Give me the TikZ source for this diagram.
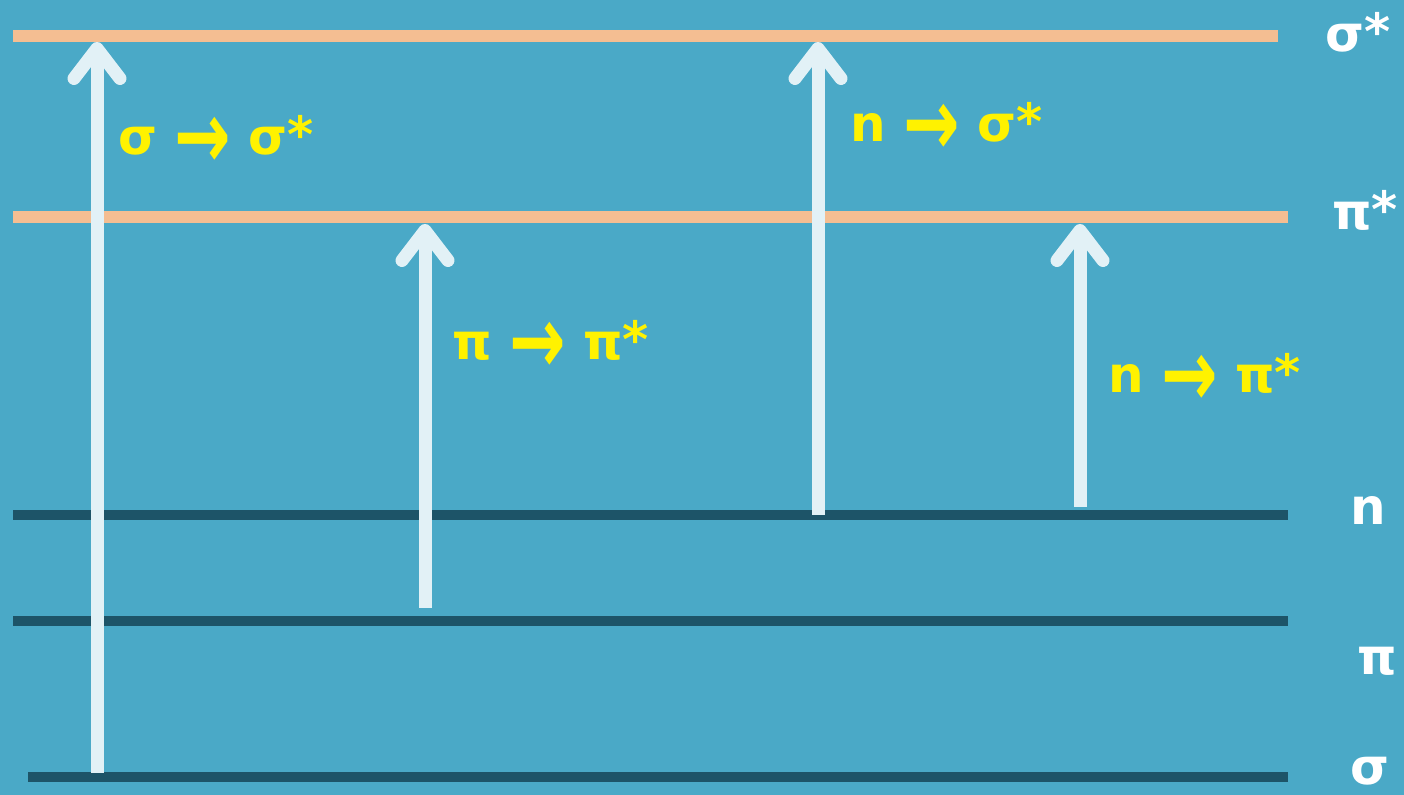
\documentclass[tikz,border=0pt]{standalone}
\usepackage{fontspec}
\setmainfont{DejaVu Sans}
\usetikzlibrary{arrows.meta}
\definecolor{bg}{HTML}{4AA9C7}
\definecolor{orangelvl}{HTML}{F4BE92}
\definecolor{darklvl}{HTML}{1D5468}
\definecolor{arrowcol}{HTML}{E2F1F6}
\definecolor{labyellow}{HTML}{FFF200}
\tikzset{
  upper/.style={draw=orangelvl, line width=6pt},
  lower/.style={draw=darklvl, line width=5pt},
  trans/.style={draw=arrowcol, line width=6.5pt,
    -{Straight Barb[length=15pt, width=23pt, round]}},
  translabel/.style={anchor=base west, inner sep=0pt, text=labyellow,
    font=\fontsize{25}{30}\selectfont\bfseries},
  levellabel/.style={anchor=base west, inner sep=0pt, text=white,
    font=\fontsize{25}{30}\selectfont\bfseries}
}
\newcommand{\starsup}{\raisebox{0.04em}{*}}
\newcommand{\bigto}{\raisebox{-0.27em}{\scalebox{1.35}[1.9]{→}}}
\begin{document}
\begin{tikzpicture}[x=0.5pt, y=-0.5pt]
\fill[bg] (0,0) rectangle (1404,795);
\useasboundingbox (0,0) rectangle (1404,795);
% level end points
\coordinate (ssL) at (13,36);   \coordinate (ssR) at (1278,36);
\coordinate (psL) at (13,217);  \coordinate (psR) at (1288,217);
\coordinate (nL)  at (13,515);  \coordinate (nR)  at (1288,515);
\coordinate (pL)  at (13,621);  \coordinate (pR)  at (1288,621);
\coordinate (sL)  at (28,777);  \coordinate (sR)  at (1288,777);
\draw[upper] (ssL) -- (ssR);
\draw[upper] (psL) -- (psR);
\draw[lower] (nL) -- (nR);
\draw[lower] (pL) -- (pR);
\draw[lower] (sL) -- (sR);
% transition end points
\coordinate (a1s) at (97,773);   \coordinate (a1e) at (97,42);
\coordinate (a2s) at (425,608);  \coordinate (a2e) at (425,224);
\coordinate (a3s) at (818,515);  \coordinate (a3e) at (818,42);
\coordinate (a4s) at (1080,507); \coordinate (a4e) at (1080,224);
\draw[trans] (a1s) -- (a1e);
\draw[trans] (a2s) -- (a2e);
\draw[trans] (a3s) -- (a3e);
\draw[trans] (a4s) -- (a4e);
% transition labels
\node[translabel] (t1) at (118,155) {σ \bigto{} σ\starsup};
\node[translabel] (t2) at (850,142) {n \bigto{} σ\starsup};
\node[translabel] (t3) at (452,360) {π \bigto{} π\starsup};
\node[translabel] (t4) at (1108,393) {n \bigto{} π\starsup};
% level labels
\node[levellabel] (l1) at (1325,52) {σ\starsup};
\node[levellabel] (l2) at (1332,230) {π\starsup};
\node[levellabel] (l3) at (1350,525) {n};
\node[levellabel] (l4) at (1357,675) {π};
\node[levellabel] (l5) at (1350,785) {σ};
\end{tikzpicture}
\end{document}
